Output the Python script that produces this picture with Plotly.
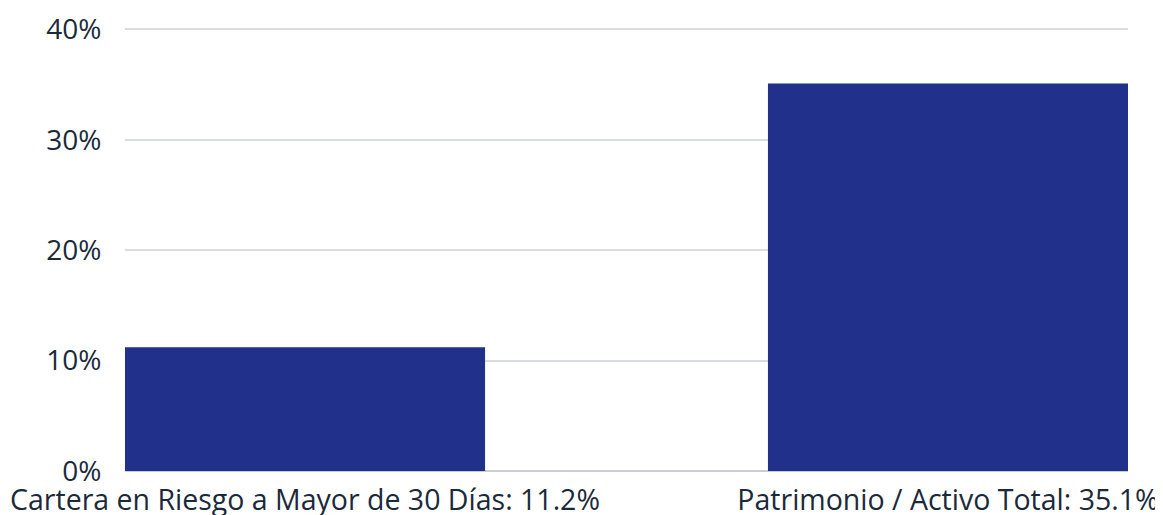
import plotly.graph_objects as go

# ── data ──
categories = [
    "Cartera en Riesgo a Mayor de 30 Días: 11.2%",
    "Patrimonio / Activo Total: 35.1%",
]
values = [11.2, 35.1]
y_ticks = [0, 10, 20, 30, 40]
y_text = ["0%", "10%", "20%", "30%", "40%"]

BAR_COLOR = "#21308A"
TEXT_COLOR = "#1B2A3A"
GRID_COLOR = "#D9DDE2"
FONT = "Open Sans"
BAR_GAP = 0.44

fig = go.Figure()
fig.add_trace(go.Bar(
    x=categories, y=values,
    marker=dict(color=BAR_COLOR, line=dict(width=0)),
    showlegend=False,
))

# the page body adds an 8px offset, so the figure is a bit smaller than the window
fig.update_layout(
    width=1155, height=507,
    paper_bgcolor="#FFFFFF",
    plot_bgcolor="#FFFFFF",
    font=dict(family=FONT, color=TEXT_COLOR, size=28),
    margin=dict(l=117, r=35, t=18, b=44),
    bargap=BAR_GAP,
)
# bars run flush to the plot edges
half = (1 - BAR_GAP) / 2
fig.update_xaxes(
    automargin=False,
    range=[-half, len(categories) - 1 + half],
    showgrid=False,
    showline=False,
    ticks="outside", ticklen=4, tickcolor="rgba(0,0,0,0)",
    tickfont=dict(size=28.5, color=TEXT_COLOR),
)
# a little headroom so the 40% gridline is not clipped at the edge
fig.update_yaxes(
    automargin=False,
    range=[0, 40.3],
    tickvals=y_ticks, ticktext=y_text,
    showgrid=True, gridcolor=GRID_COLOR, gridwidth=1.5,
    zeroline=True, zerolinecolor="#C9CED6", zerolinewidth=1.5,
    ticks="outside", ticklen=17, tickcolor="rgba(0,0,0,0)",
    tickfont=dict(size=28, color=TEXT_COLOR),
)

fig.write_html("out.html")
